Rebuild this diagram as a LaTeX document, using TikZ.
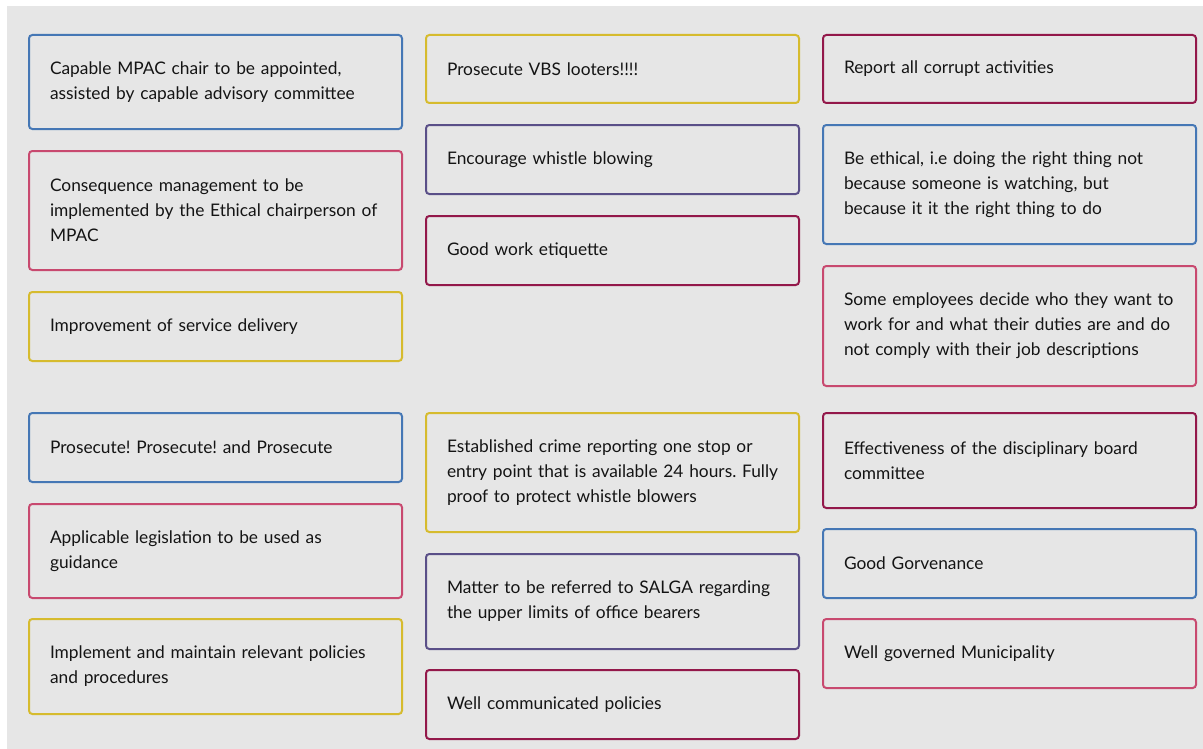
\documentclass[tikz,border=0pt]{standalone}
\usepackage{fontspec}
\setmainfont{Lato}
\frenchspacing
\hfuzz=100pt
\newdimen\pxu \pxu=0.75pt
\definecolor{bgc}{HTML}{E6E6E6}
\definecolor{cblue}{HTML}{4577B5}
\definecolor{cpink}{HTML}{C8496F}
\definecolor{cyellow}{HTML}{D6BB2E}
\definecolor{cpurple}{HTML}{5A4F88}
\definecolor{cmag}{HTML}{93184A}
\definecolor{txt}{HTML}{141414}
\tikzset{
  card/.style={draw=#1, line width=1.5pt, rounded corners=2.5pt, anchor=north west,
    text width=331\pxu, inner xsep=21\pxu, inner ysep=0pt, align=left, text=txt,
    font=\fontsize{13}{18.75}\selectfont},
}
\begin{document}
\begin{tikzpicture}[x=0.75pt,y=-0.75pt]
\useasboundingbox (0,0) rectangle (1203,749);
\fill[white] (0,0) rectangle (1203,749);
\fill[bgc] (7,6) rectangle (1203,749);
% column 1
\node[card=cblue, minimum height=94\pxu] (a) at (28,34) {Capable MPAC chair to be appointed,\\assisted by capable advisory committee};
\node[card=cpink, minimum height=119\pxu] (b) at (28,150) {Consequence management to be\\implemented by the Ethical chairperson of\\MPAC};
\node[card=cyellow, minimum height=69\pxu] (c) at (28,291) {Improvement of service delivery};
\node[card=cblue, minimum height=69\pxu] (d) at (28,412) {Prosecute! Prosecute! and Prosecute};
\node[card=cpink, minimum height=94\pxu] (e) at (28,503) {Applicable legislation to be used as\\guidance};
\node[card=cyellow, minimum height=95\pxu] (f) at (28,618) {Implement and maintain relevant policies\\and procedures};
% column 2
\node[card=cyellow, minimum height=68\pxu] (g) at (425,34) {Prosecute VBS looters!!!!};
\node[card=cpurple, minimum height=69\pxu] (h) at (425,124) {Encourage whistle blowing};
\node[card=cmag, minimum height=69\pxu] (i) at (425,215) {Good work etiquette};
\node[card=cyellow, minimum height=119\pxu] (j) at (425,412) {Established crime reporting one stop or\\\mbox{entry point that is available 24 hours. Fully}\\proof to protect whistle blowers};
\node[card=cpurple, minimum height=95\pxu] (k) at (425,553) {Matter to be referred to SALGA regarding\\the upper limits of office bearers};
\node[card=cmag, minimum height=69\pxu] (l) at (425,669) {Well communicated policies};
% column 3
\node[card=cmag, minimum height=68\pxu] (m) at (822,34) {Report all corrupt activities};
\node[card=cblue, minimum height=119\pxu] (n) at (822,124) {Be ethical, i.e doing the right thing not\\because someone is watching, but\\because it it the right thing to do};
\node[card=cpink, minimum height=120\pxu] (o) at (822,265) {Some employees decide who they want to\\work for and what their duties are and do\\not comply with their job descriptions};
\node[card=cmag, minimum height=95\pxu] (p) at (822,412) {Effectiveness of the disciplinary board\\committee};
\node[card=cblue, minimum height=69\pxu] (q) at (822,528) {Good Gorvenance};
\node[card=cpink, minimum height=69\pxu] (r) at (822,618) {Well governed Municipality};
\end{tikzpicture}
\end{document}
